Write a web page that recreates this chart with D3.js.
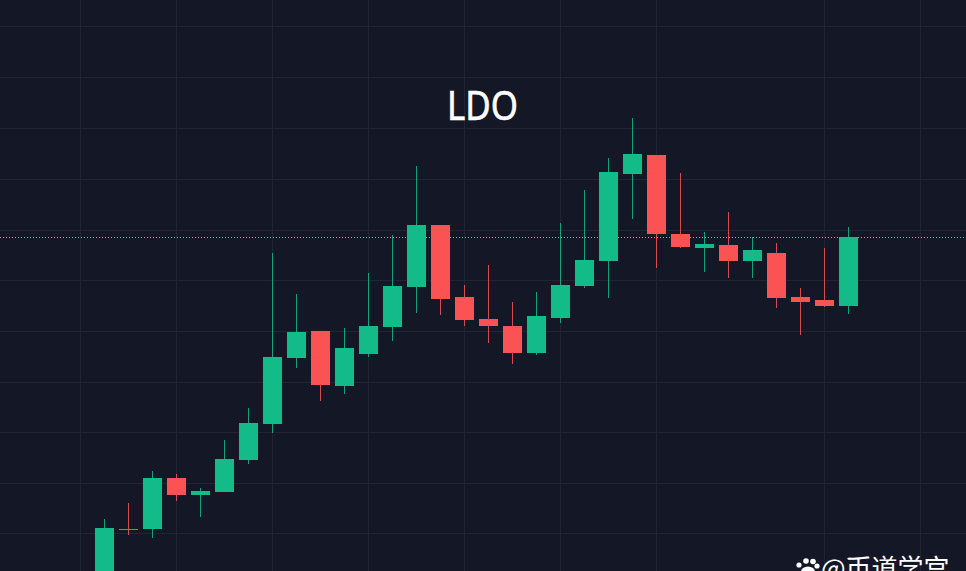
<!DOCTYPE html>
<html><head><meta charset="utf-8">
<script src="https://cdn.jsdelivr.net/npm/d3@7/dist/d3.min.js"></script>
<style>html,body{margin:0;padding:0;background:#141725;overflow:hidden}svg{display:block}</style>
</head><body><svg id="c" width="966" height="571"></svg>
<script>
const opens  = [-29,42,42,93,76,79,111,147,213,240,185,217,244,284,346,274,252,245,218,253,285,310,397,416,337,323,326,310,318,274,271,265];
const closes = [43,42,93,76,80,112,148,214,239,186,223,245,285,346,272,251,245,218,255,286,311,399,417,337,324,327,310,321,273,269,265,334];
const highs  = [52,68,100,97,83,131,163,318,277,240,243,298,336,405,346,286,306,269,279,348,381,413,453,416,398,339,359,334,328,283,323,344];
const lows   = [-29,36,33,70,54,79,107,138,203,170,177,214,230,258,256,245,228,207,216,248,283,273,352,303,323,299,293,293,263,236,264,257];
const lastPrice = 334;
const title = "LDO";
const watermark = "@币道学宫";
const gridPrices = [545,494,443,392.5,341.5,291,240,189.5,139,88,38];
const gridSlots = [-1,3,7,11,15,19,23,30,34];

const W = 966, H = 571;
const svg = d3.select("#c");
const x = d3.scaleLinear().domain([0, 31]).range([104.5, 848.5]);
const y = d3.scaleLinear().domain([0, 571]).range([571, 0]);
const up = "#12bb88", down = "#fb5254";
const bodyW = 19;

svg.append("rect").attr("width", W).attr("height", H).attr("fill", "#141725");

const grid = svg.append("g").attr("stroke", "#212531").attr("stroke-width", 1);
grid.selectAll(".h").data(gridPrices).join("line").attr("class", "h")
  .attr("x1", 0).attr("x2", W)
  .attr("y1", d => Math.round(y(d)) + .5).attr("y2", d => Math.round(y(d)) + .5);
grid.selectAll(".v").data(gridSlots).join("line").attr("class", "v")
  .attr("y1", 0).attr("y2", H)
  .attr("x1", d => Math.floor(x(d)) + .5).attr("x2", d => Math.floor(x(d)) + .5);

svg.append("line").attr("x1", 0).attr("x2", W)
  .attr("y1", y(lastPrice) + .5).attr("y2", y(lastPrice) + .5)
  .attr("stroke", "#5fc4b0").attr("stroke-width", 1).attr("stroke-dasharray", "1 2");

const candles = d3.range(opens.length);
const col = i => closes[i] > opens[i] ? up : down;
const g = svg.append("g");
g.selectAll(".wick").data(candles).join("line").attr("class", "wick")
  .attr("x1", i => x(i)).attr("x2", i => x(i))
  .attr("y1", i => y(highs[i])).attr("y2", i => y(lows[i]))
  .attr("stroke", col).attr("stroke-width", 1).attr("stroke-opacity", .85);
g.selectAll(".body").data(candles).join("rect").attr("class", "body")
  .attr("x", i => x(i) - bodyW / 2).attr("width", bodyW)
  .attr("y", i => y(Math.max(opens[i], closes[i])))
  .attr("height", i => Math.max(1, Math.abs(opens[i] - closes[i])))
  .attr("fill", col);

svg.append("text").text(title).attr("x", 447).attr("y", 120)
  .attr("textLength", 71).attr("lengthAdjust", "spacingAndGlyphs")
  .attr("fill", "#fff").attr("stroke", "#fff").attr("stroke-width", .6)
  .attr("font-family", "'Noto Sans'").attr("font-size", 40);

svg.append("text").text(watermark).attr("x", 821).attr("y", 578)
  .attr("fill", "#fff").attr("font-family", "'Noto Sans CJK SC'").attr("font-size", 26);

// paw icon of the watermark
const paw = svg.append("g").attr("fill", "#fff");
[[799,565,2.6],[806,561,2.8],[813,561.5,2.8],[817,566,2.6]].forEach(d =>
  paw.append("circle").attr("cx", d[0]).attr("cy", d[1]).attr("r", d[2]));
paw.append("ellipse").attr("cx", 808).attr("cy", 572).attr("rx", 7).attr("ry", 5.5);
</script></body></html>
